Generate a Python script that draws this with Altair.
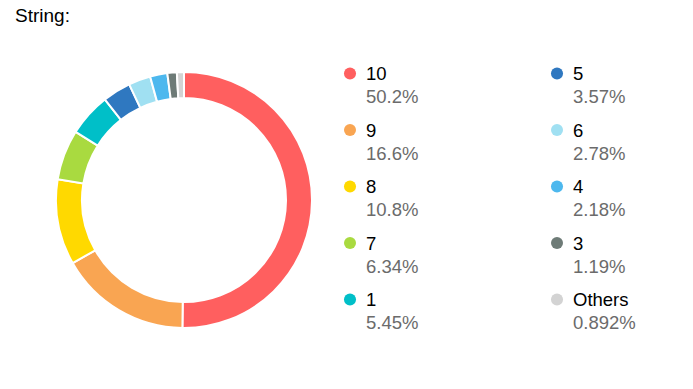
import altair as alt
import pandas as pd

categories = ["10", "9", "8", "7", "1", "5", "6", "4", "3", "Others"]
values = [50.2, 16.6, 10.8, 6.34, 5.45, 3.57, 2.78, 2.18, 1.19, 0.892]
colors = ["#FF5F5F", "#F9A552", "#FFD900", "#A9DA40", "#00BFC8",
          "#2F78C0", "#A0E0F2", "#4DB8EE", "#6E7B77", "#D3D3D3"]
title_text = "String:"

df = pd.DataFrame({
    "cat": categories,
    "value": values,
    "idx": list(range(len(categories))),
    "col": [i // 5 for i in range(len(categories))],
    "row": [i % 5 for i in range(len(categories))],
    "pct": [f"{v:.3g}%" for v in values],
})

color = alt.Color("cat:N", scale=alt.Scale(domain=categories, range=colors), legend=None)
FONT = "Liberation Sans"

base = alt.Chart(df)

arc = base.mark_arc(outerRadius=128, innerRadius=102, stroke="white", strokeWidth=2).encode(
    theta=alt.Theta("value:Q", stack=True),
    order=alt.Order("idx:Q"),
    color=color,
    x=alt.value(184),
    y=alt.value(200),
)

xs = alt.X("col:Q", scale=alt.Scale(domain=[0, 1], range=[350, 557]), axis=None)
ys = alt.Y("row:Q", scale=alt.Scale(domain=[0, 4], range=[80, 306]), axis=None)

dots = base.mark_point(filled=True, opacity=1, size=145, shape="circle").encode(
    x=xs, y=ys, yOffset=alt.value(-6.5), color=color
)

labels = base.mark_text(align="left", baseline="alphabetic", dx=16, font=FONT,
                        fontSize=18.5, color="#000000").encode(
    x=xs, y=ys, text="cat:N"
)

pcts = base.mark_text(align="left", baseline="alphabetic", dx=16, dy=23, font=FONT,
                      fontSize=18.5, color="#6B6B6B").encode(
    x=xs, y=ys, text="pct:N"
)

title = alt.Chart(pd.DataFrame({"t": [title_text]})).mark_text(
    align="left", baseline="alphabetic", font=FONT, fontSize=19, color="#000000"
).encode(x=alt.value(15), y=alt.value(22), text="t:N")

chart = alt.layer(arc, dots, labels, pcts, title).properties(
    width=693, height=389, padding=0, autosize="none"
).configure_view(stroke=None)

chart.save("out.html", embed_options={"renderer": "svg", "actions": False})
